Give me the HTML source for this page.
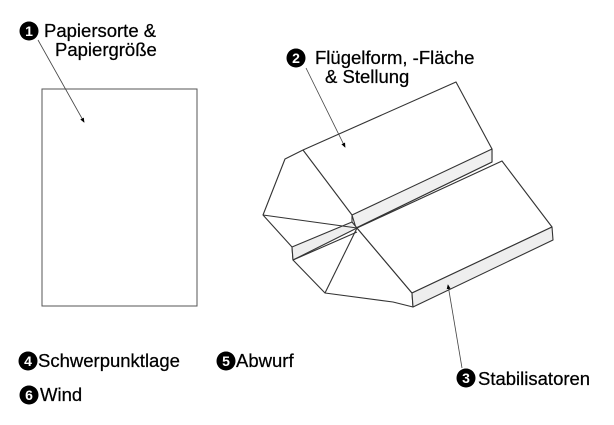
<!DOCTYPE html>
<html><head><meta charset="utf-8"><style>
html,body{margin:0;padding:0;background:#fff}
svg{display:block}
text{font-family:"Liberation Sans",Arial,sans-serif;font-size:18.5px;fill:#000;stroke:#000;stroke-width:0.25}
.n{font-size:14px;font-weight:bold;fill:#fff;stroke:none;text-anchor:middle}
</style></head><body>
<svg width="614" height="425" viewBox="0 0 614 425" xmlns="http://www.w3.org/2000/svg">
<defs><marker id="a" markerWidth="6" markerHeight="6" refX="5" refY="3" orient="auto"><path d="M0,0.5 L6,3 L0,5.5z" fill="#000"/></marker></defs>
<rect x="42" y="89" width="155" height="217" fill="#fff" stroke="#555" stroke-width="1"/>
<g stroke="#333" stroke-width="1.1" fill="#fff" stroke-linejoin="round">
<polygon points="285,159 303,150 456,82 492,149 492,162 356,228 357,228 412,293 413,307 393,302 325,293 293,260 292,247 263,215"/>
<polygon points="352,215 492,149 492,162 356,228" fill="#f0f0f0"/>
<polygon points="357,228 502,161 552,227 412,293" fill="#fff"/>
<polygon points="412,293 552,227 553,240 413,307" fill="#eee"/>
<polygon points="292,247 352,222 357,228 293,260" fill="#eee"/>
<line x1="303" y1="150" x2="352" y2="215"/>
<line x1="263" y1="215" x2="357" y2="228"/>
<line x1="357" y1="228" x2="325" y2="293"/>
<line x1="352" y1="215" x2="352" y2="222"/>
<line x1="293" y1="260" x2="357" y2="232"/>
</g>
<g stroke="#444" stroke-width="0.8" marker-end="url(#a)">
<line x1="38" y1="40" x2="84" y2="122"/>
<line x1="306" y1="68" x2="345" y2="147"/>
<line x1="462" y1="368" x2="448" y2="285"/>
</g>
<g>
<circle cx="29" cy="31" r="9.5"/><text class="n" x="29" y="36">1</text>
<circle cx="296" cy="58" r="9.5"/><text class="n" x="296" y="63">2</text>
<circle cx="466" cy="378" r="9.5"/><text class="n" x="466" y="383">3</text>
<circle cx="28" cy="361" r="9.5"/><text class="n" x="28" y="366">4</text>
<circle cx="226" cy="361" r="9.5"/><text class="n" x="226" y="366">5</text>
<circle cx="29" cy="395" r="9.5"/><text class="n" x="29" y="400">6</text>
</g>
<text x="44" y="37">Papiersorte &amp;</text>
<text x="55" y="56">Papiergröße</text>
<text x="315" y="64">Flügelform, -Fläche</text>
<text x="325" y="83">&amp; Stellung</text>
<text x="38" y="367">Schwerpunktlage</text>
<text x="236" y="367">Abwurf</text>
<text x="40" y="401">Wind</text>
<text x="478" y="385">Stabilisatoren</text>
</svg>
</body></html>
